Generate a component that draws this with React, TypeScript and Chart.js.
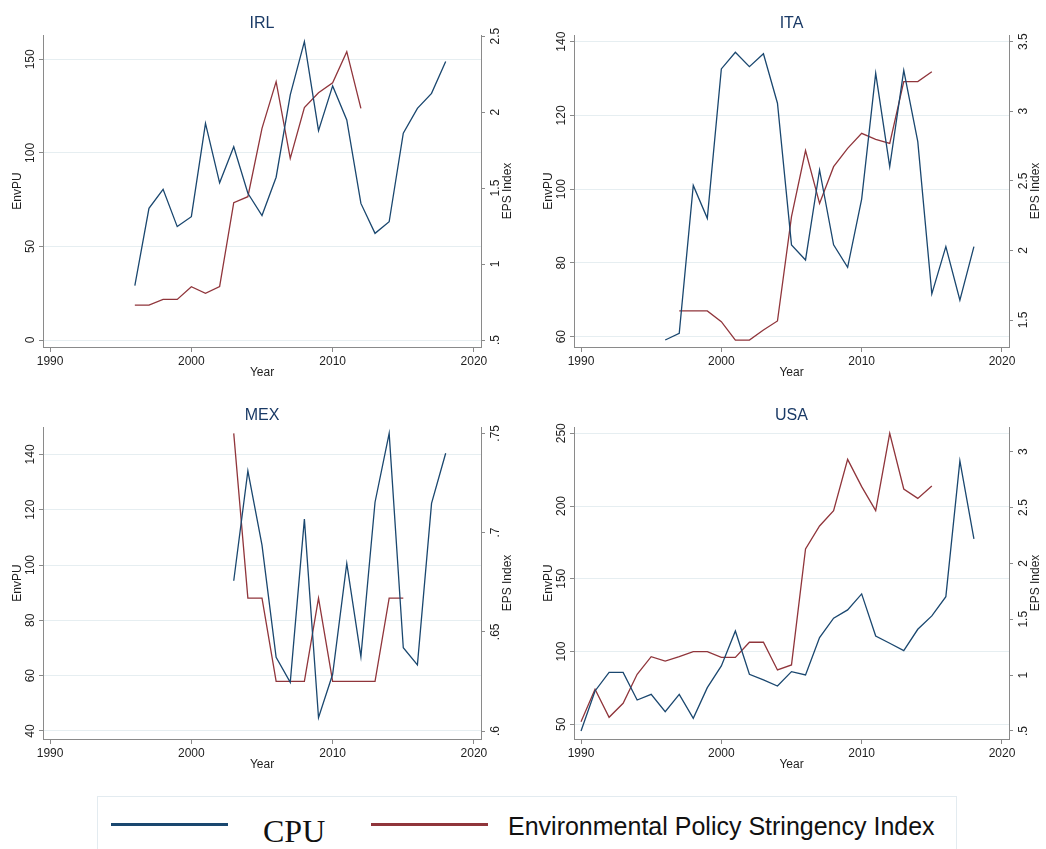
import React, { useEffect, useRef } from "react";
import { Chart, registerables } from "chart.js";

Chart.register(...registerables);

// ---------------- DATA ----------------
const irlCpuYears = [1996, 1997, 1998, 1999, 2000, 2001, 2002, 2003, 2004, 2005, 2006, 2007, 2008, 2009, 2010, 2011, 2012, 2013, 2014, 2015, 2016, 2017, 2018];
const irlCpu = [29, 70.4, 80.5, 60.6, 65.9, 115.8, 84, 103.3, 78.4, 66.5, 87, 131, 159.5, 111.9, 135.8, 117.6, 73, 57, 63.2, 110.5, 123.8, 131.8, 148.8];
const irlEpsYears = [1996, 1997, 1998, 1999, 2000, 2001, 2002, 2003, 2004, 2005, 2006, 2007, 2008, 2009, 2010, 2011, 2012];
const irlEps = [0.729, 0.729, 0.767, 0.767, 0.851, 0.807, 0.851, 1.404, 1.443, 1.893, 2.2, 1.695, 2.03, 2.127, 2.193, 2.397, 2.024];

const itaCpuYears = [1996, 1997, 1998, 1999, 2000, 2001, 2002, 2003, 2004, 2005, 2006, 2007, 2008, 2009, 2010, 2011, 2012, 2013, 2014, 2015, 2016, 2017, 2018];
const itaCpu = [59.1, 60.9, 101, 92.1, 132.6, 137.1, 133.2, 136.7, 123.3, 84.9, 80.8, 105.2, 84.9, 78.8, 97.3, 131.4, 106.1, 132.2, 112.9, 71.6, 84.4, 69.9, 84.4];
const itaEpsYears = [1997, 1998, 1999, 2000, 2001, 2002, 2003, 2004, 2005, 2006, 2007, 2008, 2009, 2010, 2011, 2012, 2013, 2014, 2015];
const itaEps = [1.565, 1.565, 1.565, 1.488, 1.356, 1.356, 1.428, 1.493, 2.243, 2.717, 2.338, 2.602, 2.733, 2.841, 2.798, 2.769, 3.213, 3.213, 3.284];

const mexCpuYears = [2003, 2004, 2005, 2006, 2007, 2008, 2009, 2010, 2011, 2012, 2013, 2014, 2015, 2016, 2017, 2018];
const mexCpu = [94.3, 134, 107.2, 66.6, 57.6, 116.6, 44.8, 60.5, 100.6, 66.9, 122.7, 147.6, 70.1, 63.9, 122.3, 140.4];
const mexEpsYears = [2003, 2004, 2005, 2006, 2007, 2008, 2009, 2010, 2011, 2012, 2013, 2014, 2015];
const mexEps = [0.75, 0.667, 0.667, 0.625, 0.625, 0.625, 0.667, 0.625, 0.625, 0.625, 0.625, 0.667, 0.667];

const usaCpuYears = [1990, 1991, 1992, 1993, 1994, 1995, 1996, 1997, 1998, 1999, 2000, 2001, 2002, 2003, 2004, 2005, 2006, 2007, 2008, 2009, 2010, 2011, 2012, 2013, 2014, 2015, 2016, 2017, 2018];
const usaCpu = [45.4, 72.9, 85.7, 85.7, 66.7, 70.6, 58.7, 70.6, 54.1, 75.2, 90.1, 114.1, 84.4, 80.5, 76.3, 86.2, 83.9, 109.6, 122.9, 128.6, 139.6, 110.7, 105.7, 100.6, 115.3, 124.5, 137.7, 231, 177.4];
const usaEpsYears = [1990, 1991, 1992, 1993, 1994, 1995, 1996, 1997, 1998, 1999, 2000, 2001, 2002, 2003, 2004, 2005, 2006, 2007, 2008, 2009, 2010, 2011, 2012, 2013, 2014, 2015];
const usaEps = [0.583, 0.873, 0.622, 0.748, 1.007, 1.165, 1.126, 1.165, 1.21, 1.21, 1.159, 1.159, 1.294, 1.294, 1.046, 1.091, 2.129, 2.335, 2.472, 2.931, 2.687, 2.472, 3.164, 2.666, 2.582, 2.693];

// tick values & labels
const yearTicks = [1990, 2000, 2010, 2020];
const yearTickLabels = ["1990", "2000", "2010", "2020"];

const irlLeftTicks = [0, 50, 100, 150];
const irlLeftLabels = ["0", "50", "100", "150"];
const irlRightTicks = [0.5, 1, 1.5, 2, 2.5];
const irlRightLabels = [".5", "1", "1.5", "2", "2.5"];

const itaLeftTicks = [60, 80, 100, 120, 140];
const itaLeftLabels = ["60", "80", "100", "120", "140"];
const itaRightTicks = [1.5, 2, 2.5, 3, 3.5];
const itaRightLabels = ["1.5", "2", "2.5", "3", "3.5"];

const mexLeftTicks = [40, 60, 80, 100, 120, 140];
const mexLeftLabels = ["40", "60", "80", "100", "120", "140"];
const mexRightTicks = [0.6, 0.65, 0.7, 0.75];
const mexRightLabels = [".6", ".65", ".7", ".75"];

const usaLeftTicks = [50, 100, 150, 200, 250];
const usaLeftLabels = ["50", "100", "150", "200", "250"];
const usaRightTicks = [0.5, 1, 1.5, 2, 2.5, 3];
const usaRightLabels = [".5", "1", "1.5", "2", "2.5", "3"];

// ---------------- STYLE ----------------
const BLUE = "#1a476f";
const RED = "#90353b";
const GRID = "#e6eef1";
const AXIS = "#8a8a8a";
const TEXT = "#1e1e1e";
const TITLE = "#1a3a66";
const SANS = '"Liberation Sans", Arial, Helvetica, sans-serif';

type Panel = {
  title: string;
  left: number; top: number; W: number; H: number;
  L: number; R: number; T: number; B: number;
  cpuX: number[]; cpuY: number[]; epsX: number[]; epsY: number[];
  yMin: number; yMax: number; y1Min: number; y1Max: number;
  lTicks: number[]; lLabels: string[]; rTicks: number[]; rLabels: string[];
};

const panels: Panel[] = [
  {
    title: "IRL", left: 0, top: 0, W: 520, H: 390, L: 43, R: 481, T: 35, B: 347,
    cpuX: irlCpuYears, cpuY: irlCpu, epsX: irlEpsYears, epsY: irlEps,
    yMin: -3.74, yMax: 163, y1Min: 0.454, y1Max: 2.507,
    lTicks: irlLeftTicks, lLabels: irlLeftLabels, rTicks: irlRightTicks, rLabels: irlRightLabels,
  },
  {
    title: "ITA", left: 520, top: 0, W: 526, H: 390, L: 54, R: 489, T: 35, B: 347,
    cpuX: itaCpuYears, cpuY: itaCpu, epsX: itaEpsYears, epsY: itaEps,
    yMin: 57.2, yMax: 141.8, y1Min: 1.306, y1Max: 3.548,
    lTicks: itaLeftTicks, lLabels: itaLeftLabels, rTicks: itaRightTicks, rLabels: itaRightLabels,
  },
  {
    title: "MEX", left: 0, top: 395, W: 520, H: 390, L: 43, R: 481, T: 32, B: 344,
    cpuX: mexCpuYears, cpuY: mexCpu, epsX: mexEpsYears, epsY: mexEps,
    yMin: 37.1, yMax: 149.9, y1Min: 0.596, y1Max: 0.7532,
    lTicks: mexLeftTicks, lLabels: mexLeftLabels, rTicks: mexRightTicks, rLabels: mexRightLabels,
  },
  {
    title: "USA", left: 520, top: 395, W: 526, H: 390, L: 54, R: 489, T: 32, B: 344,
    cpuX: usaCpuYears, cpuY: usaCpu, epsX: usaEpsYears, epsY: usaEps,
    yMin: 39.9, yMax: 254.3, y1Min: 0.428, y1Max: 3.221,
    lTicks: usaLeftTicks, lLabels: usaLeftLabels, rTicks: usaRightTicks, rLabels: usaRightLabels,
  },
];

function makeTextPlugin(p: Panel) {
  return {
    id: "panelText" + p.title,
    afterDraw(chart: any) {
      const ctx = chart.ctx as CanvasRenderingContext2D;
      const ca = chart.chartArea;
      const ys = chart.scales.y;
      const y1s = chart.scales.y1;
      const xs = chart.scales.x;
      const cx = (ca.left + ca.right) / 2;
      const cy = (ca.top + ca.bottom) / 2;
      ctx.save();
      // title
      ctx.font = "16px " + SANS;
      ctx.fillStyle = TITLE;
      ctx.textAlign = "center";
      ctx.textBaseline = "middle";
      ctx.fillText(p.title, cx, ca.top - 11.5);

      ctx.fillStyle = TEXT;
      ctx.font = "12px " + SANS;
      const vtext = (s: string, x: number, y: number) => {
        ctx.save();
        ctx.translate(x, y);
        ctx.rotate(-Math.PI / 2);
        ctx.textAlign = "center";
        ctx.textBaseline = "middle";
        ctx.fillText(s, 0, 0);
        ctx.restore();
      };
      p.lTicks.forEach((v, i) => vtext(p.lLabels[i], ca.left - 12.5, ys.getPixelForValue(v)));
      p.rTicks.forEach((v, i) => vtext(p.rLabels[i], ca.right + 15, y1s.getPixelForValue(v)));
      ctx.textAlign = "center";
      ctx.textBaseline = "middle";
      yearTicks.forEach((v, i) => ctx.fillText(yearTickLabels[i], xs.getPixelForValue(v), ca.bottom + 15));
      ctx.fillText("Year", cx, ca.bottom + 26);
      vtext("EnvPU", ca.left - 25, cy);
      vtext("EPS Index", ca.right + 27, cy);
      ctx.restore();
    },
  };
}

function makeConfig(p: Panel): any {
  const setTicks = (vals: number[]) => (s: any) => {
    s.ticks = vals.map((v) => ({ value: v }));
  };
  return {
    type: "line",
    data: {
      datasets: [
        {
          label: "CPU",
          data: p.cpuX.map((x, i) => ({ x, y: p.cpuY[i] })),
          yAxisID: "y",
          borderColor: BLUE,
          borderWidth: 1.3,
          pointRadius: 0,
          tension: 0,
          fill: false,
        },
        {
          label: "Environmental Policy Stringency Index",
          data: p.epsX.map((x, i) => ({ x, y: p.epsY[i] })),
          yAxisID: "y1",
          borderColor: RED,
          borderWidth: 1.3,
          pointRadius: 0,
          tension: 0,
          fill: false,
        },
      ],
    },
    options: {
      animation: false,
      responsive: false,
      maintainAspectRatio: false,
      events: [],
      layout: { padding: { top: p.T, left: 0, right: 0, bottom: 0 }, autoPadding: false },
      plugins: { legend: { display: false }, tooltip: { enabled: false }, title: { display: false } },
      scales: {
        x: {
          type: "linear",
          position: "bottom",
          min: 1989.5,
          max: 2020.5,
          afterBuildTicks: setTicks(yearTicks),
          afterFit: (s: any) => { s.height = p.H - p.B; },
          ticks: { display: false },
          grid: { drawOnChartArea: false, drawTicks: true, tickLength: 5, tickColor: AXIS, lineWidth: 1 },
          border: { display: true, color: AXIS, width: 1 },
        },
        y: {
          type: "linear",
          position: "left",
          min: p.yMin,
          max: p.yMax,
          afterBuildTicks: setTicks(p.lTicks),
          afterFit: (s: any) => { s.width = p.L; },
          ticks: { display: false },
          grid: { drawOnChartArea: true, color: GRID, drawTicks: true, tickLength: 4, tickColor: AXIS, lineWidth: 1 },
          border: { display: true, color: AXIS, width: 1 },
        },
        y1: {
          type: "linear",
          position: "right",
          min: p.y1Min,
          max: p.y1Max,
          afterBuildTicks: setTicks(p.rTicks),
          afterFit: (s: any) => { s.width = p.W - p.R; },
          ticks: { display: false },
          grid: { drawOnChartArea: false, drawTicks: true, tickLength: 4, tickColor: AXIS, lineWidth: 1 },
          border: { display: true, color: AXIS, width: 1 },
        },
      },
    },
    plugins: [makeTextPlugin(p)],
  };
}

function PanelChart({ p }: { p: Panel }) {
  const ref = useRef<HTMLCanvasElement | null>(null);
  useEffect(() => {
    if (!ref.current) return;
    const chart = new Chart(ref.current, makeConfig(p));
    return () => chart.destroy();
  }, [p]);
  return (
    <canvas
      ref={ref}
      width={p.W}
      height={p.H}
      style={{ position: "absolute", left: p.left, top: p.top, width: p.W, height: p.H }}
    />
  );
}

export default function App() {
  return (
    <div
      style={{
        position: "fixed",
        left: 0,
        top: 0,
        width: 1046,
        height: 849,
        overflow: "hidden",
        background: "#ffffff",
      }}
    >
      {panels.map((p) => (
        <PanelChart key={p.title} p={p} />
      ))}
      <div
        style={{
          position: "absolute",
          left: 97,
          top: 796,
          width: 860,
          height: 80,
          border: "1px solid #e3ebf0",
          boxSizing: "border-box",
        }}
      />
      <div style={{ position: "absolute", left: 111, top: 823, width: 117, height: 2.5, background: BLUE }} />
      <div
        style={{
          position: "absolute",
          left: 263,
          top: 815,
          fontFamily: '"Liberation Serif", "Times New Roman", serif',
          fontSize: 32,
          lineHeight: "32px",
          color: "#111",
          whiteSpace: "nowrap",
        }}
      >
        CPU
      </div>
      <div style={{ position: "absolute", left: 371, top: 823, width: 117, height: 2.5, background: RED }} />
      <div
        style={{
          position: "absolute",
          left: 508,
          top: 814,
          fontFamily: SANS,
          fontSize: 25,
          lineHeight: "25px",
          color: "#111",
          whiteSpace: "nowrap",
        }}
      >
        Environmental Policy Stringency Index
      </div>
    </div>
  );
}
